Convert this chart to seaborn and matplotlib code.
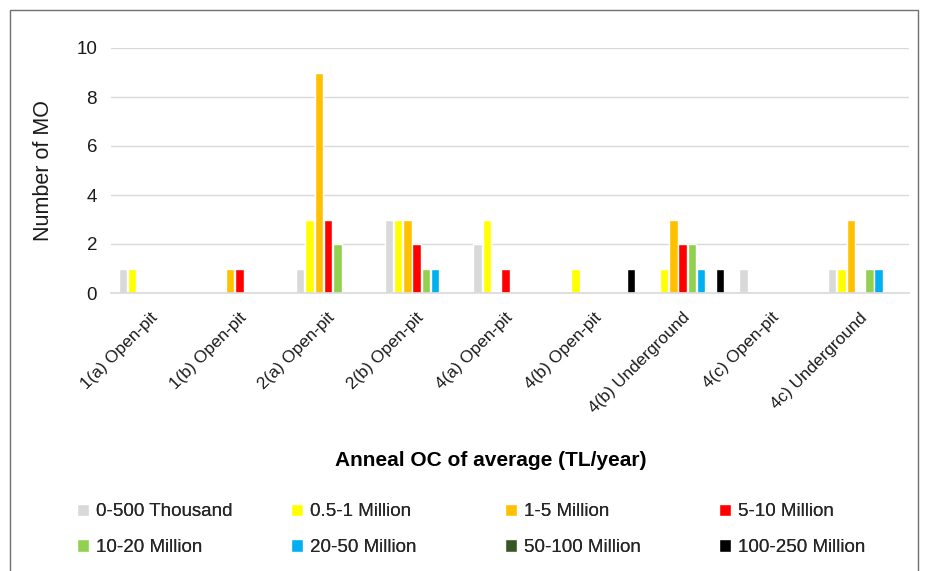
import matplotlib
matplotlib.use('Agg')
import matplotlib.pyplot as plt
import numpy as np
import pandas as pd
import seaborn as sns

# categories and size classes
categories = ['1(a) Open-pit', '1(b) Open-pit', '2(a) Open-pit', '2(b) Open-pit',
              '4(a) Open-pit', '4(b) Open-pit', '4(b) Underground', '4(c) Open-pit',
              '4c) Underground']
classes = ['0-500 Thousand', '0.5-1 Million', '1-5 Million', '5-10 Million',
           '10-20 Million', '20-50 Million', '50-100 Million', '100-250 Million']
colors = ['#D9D9D9', '#FFFF00', '#FFC000', '#FF0000',
          '#92D050', '#00B0F0', '#375623', '#000000']

# counts per category, one list per size class
thousand_0_500 = [1, 0, 1, 3, 2, 0, 0, 1, 1]
million_05_1 = [1, 0, 3, 3, 3, 1, 1, 0, 1]
million_1_5 = [0, 1, 9, 3, 0, 0, 3, 0, 3]
million_5_10 = [0, 1, 3, 2, 1, 0, 2, 0, 0]
million_10_20 = [0, 0, 2, 1, 0, 0, 2, 0, 1]
million_20_50 = [0, 0, 0, 1, 0, 0, 1, 0, 1]
million_50_100 = [0, 0, 0, 0, 0, 0, 0, 0, 0]
million_100_250 = [0, 0, 0, 0, 0, 1, 1, 0, 0]

series = [thousand_0_500, million_05_1, million_1_5, million_5_10,
          million_10_20, million_20_50, million_50_100, million_100_250]

rows = []
for cls, vals in zip(classes, series):
    for cat, v in zip(categories, vals):
        rows.append({'category': cat, 'class': cls, 'count': v})
df = pd.DataFrame(rows)

sns.set_style('white')
plt.rcParams['font.family'] = ['Liberation Sans', 'DejaVu Sans']

W, H = 926, 571
fig = plt.figure(figsize=(W / 100, H / 100), dpi=100)
# plot area 111..909 px wide, 48..293 px tall
ax = fig.add_axes([111 / W, 1 - 293 / H, 798 / W, 245 / H])

sns.barplot(data=df, x='category', y='count', hue='class', order=categories,
            hue_order=classes, palette=colors, width=0.84, gap=0.1,
            saturation=1, ax=ax, legend=True)

ax.set_xlim(-0.5, 8.5)
ax.set_ylim(0, 10)
ax.set_yticks(np.arange(0, 11, 2))
ax.yaxis.grid(True, color='#D9D9D9', linewidth=1)
ax.set_axisbelow(True)
for s in ['top', 'right', 'left']:
    ax.spines[s].set_visible(False)
ax.spines['bottom'].set_color('#D9D9D9')
ax.spines['bottom'].set_linewidth(1.2)
ax.tick_params(axis='y', length=0, labelsize=13.5, colors='#1a1a1a', pad=10)
ax.tick_params(axis='x', length=0, labelsize=12.3, colors='#1a1a1a', pad=16)
plt.setp(ax.get_xticklabels(), rotation=45, ha='right', va='center',
         rotation_mode='anchor')

ax.set_ylabel('Number of MO', fontsize=15.5, color='#1a1a1a', labelpad=16)
ax.set_xlabel('Anneal OC of average (TL/year)', fontsize=15, fontweight='bold',
              color='#000000')
ax.xaxis.set_label_coords((491 - 111) / 798, (293 - 451) / 245)

handles, labels = ax.get_legend_handles_labels()
ax.legend_.remove()
# four fixed columns, two rows, filled row by row
col_px = [68, 282, 496, 710]
for c in range(4):
    hs = [handles[c], handles[c + 4]]
    ls = [labels[c], labels[c + 4]]
    leg = fig.legend(hs, ls, loc='upper left', bbox_to_anchor=(col_px[c] / W, 0.135),
                     ncol=1, frameon=False, fontsize=13.5, handlelength=0.64,
                     handleheight=0.64, handletextpad=0.37, labelspacing=1.0,
                     borderpad=0)
    fig.add_artist(leg)

# outer frame
fig.patches.append(plt.Rectangle((10 / W, -0.01), 908 / W, 1 - 10 / H + 0.01,
                                 transform=fig.transFigure, fill=False,
                                 edgecolor='#707070', linewidth=1))

fig.savefig('out.png', dpi=100)
